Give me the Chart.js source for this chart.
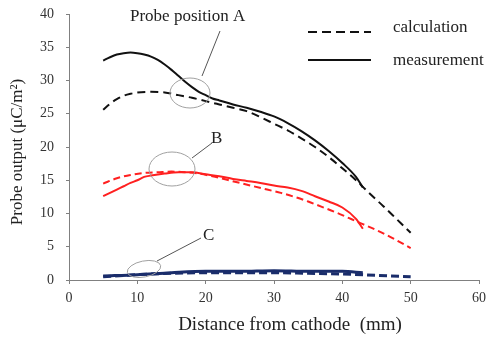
<!DOCTYPE html>
<html>
<head>
<meta charset="utf-8">
<script src="https://cdn.jsdelivr.net/npm/chart.js@4"></script>
<style>
  html, body { margin: 0; padding: 0; background: #fff; }
  #wrap { width: 486px; height: 338px; }
</style>
</head>
<body>
<div id="wrap"><canvas id="probeChart" width="486" height="338"></canvas></div>
<script>
// A: probe position A
const aMeasX = [5, 6, 7, 8, 9, 10, 11, 12, 13, 14, 15, 16, 17, 18, 19, 20, 21, 22, 24, 26, 28, 30, 32, 34, 36, 38, 40, 42, 43];
const aMeasY = [33.0, 33.5, 33.9, 34.1, 34.2, 34.1, 33.9, 33.6, 33.1, 32.4, 31.6, 30.7, 29.8, 29.0, 28.3, 27.8, 27.3, 27.0, 26.4, 25.9, 25.3, 24.6, 23.6, 22.4, 21.0, 19.4, 17.6, 15.5, 13.9];
const aCalcX = [5, 6, 7, 8, 9, 10, 12, 14, 16, 18, 20, 22, 24, 26, 28, 30, 32, 34, 36, 38, 40, 42, 44, 46, 48, 50];
const aCalcY = [25.6, 26.5, 27.2, 27.7, 28.0, 28.2, 28.3, 28.2, 27.8, 27.4, 26.9, 26.4, 25.9, 25.4, 24.5, 23.5, 22.5, 21.3, 20.0, 18.5, 16.8, 15.0, 13.0, 11.1, 9.1, 7.1];
// B
const bMeasX = [5, 6, 7, 8, 9, 10, 11, 12, 14, 16, 18, 20, 22, 24, 26, 28, 30, 32, 34, 36, 38, 40, 42, 43];
const bMeasY = [12.6, 13.1, 13.6, 14.1, 14.6, 15.0, 15.5, 15.7, 16.0, 16.2, 16.2, 15.9, 15.6, 15.2, 14.9, 14.6, 14.2, 13.9, 13.4, 12.6, 11.8, 10.9, 9.2, 7.7];
const bCalcX = [5, 7, 9, 11, 13, 15, 17, 19, 21, 23, 25, 27, 29, 31, 33, 35, 37, 39, 41, 43, 45, 47, 50];
const bCalcY = [14.5, 15.3, 15.8, 16.1, 16.2, 16.3, 16.2, 16.0, 15.6, 15.1, 14.6, 14.1, 13.6, 13.1, 12.5, 11.8, 11.0, 10.2, 9.3, 8.4, 7.5, 6.5, 4.8];
// C
const cMeasX = [5, 10, 15, 20, 25, 30, 35, 40, 43];
const cMeasY = [0.6, 0.8, 1.1, 1.3, 1.3, 1.4, 1.3, 1.3, 1.1];
const cCalcX = [5, 10, 15, 20, 25, 30, 35, 40, 45, 50];
const cCalcY = [0.5, 0.8, 1.0, 1.1, 1.1, 1.1, 1.0, 0.9, 0.7, 0.5];

const xTicks = [0, 10, 20, 30, 40, 50, 60];
const yTicks = [0, 5, 10, 15, 20, 25, 30, 35, 40];

const serif = "'Liberation Serif', 'DejaVu Serif', serif";

function pts(xs, ys) {
  return xs.map((x, i) => ({ x: x, y: ys[i] }));
}

function line(xs, ys, color, width, dash) {
  return {
    data: pts(xs, ys),
    borderColor: color,
    borderWidth: width,
    borderDash: dash || [],
    pointRadius: 0,
    fill: false,
    cubicInterpolationMode: "monotone"
  };
}

// axis titles, callouts, legend and ellipses drawn on top
const extras = {
  id: "extras",
  afterDatasetsDraw(chart) {
    const ctx = chart.ctx;
    ctx.save();

    // ellipses
    ctx.strokeStyle = "#a0a0a0";
    ctx.lineWidth = 1;
    [[190, 93, 20, 15, 0], [172, 169, 23, 17, 0], [144, 269, 17, 8, -0.2]].forEach((e) => {
      ctx.beginPath();
      ctx.ellipse(e[0], e[1], e[2], e[3], e[4], 0, Math.PI * 2);
      ctx.stroke();
    });

    // leader lines
    ctx.strokeStyle = "#555";
    [[202, 76, 220, 31], [192, 158, 212, 143], [157, 261, 201, 238]].forEach((l) => {
      ctx.beginPath();
      ctx.moveTo(l[0], l[1]);
      ctx.lineTo(l[2], l[3]);
      ctx.stroke();
    });

    ctx.fillStyle = "#222";
    ctx.font = "17px " + serif;
    ctx.textBaseline = "middle";
    ctx.textAlign = "left";
    ctx.fillText("Probe position A", 130, 17);
    ctx.fillText("B", 211, 139);
    ctx.fillText("C", 203, 236);

    // legend
    ctx.strokeStyle = "#111";
    ctx.lineWidth = 2;
    ctx.setLineDash([9, 5]);
    ctx.beginPath();
    ctx.moveTo(308, 32);
    ctx.lineTo(371, 32);
    ctx.stroke();
    ctx.setLineDash([]);
    ctx.beginPath();
    ctx.moveTo(308, 60);
    ctx.lineTo(371, 60);
    ctx.stroke();
    ctx.fillText("calculation", 393, 28);
    ctx.fillText("measurement", 393, 61);

    // axis titles
    ctx.textAlign = "center";
    ctx.font = "19px " + serif;
    ctx.fillText("Distance from cathode  (mm)", 290, 325);
    ctx.translate(18, 152);
    ctx.rotate(-Math.PI / 2);
    ctx.font = "17px " + serif;
    ctx.fillText("Probe output (μC/m²)", 0, 0);
    ctx.restore();
  }
};

new Chart(document.getElementById("probeChart"), {
  type: "line",
  data: {
    datasets: [
      line(aCalcX, aCalcY, "#111", 2, [8, 5]),
      line(aMeasX, aMeasY, "#111", 2),
      line(bCalcX, bCalcY, "#ff2020", 2, [7, 4]),
      line(bMeasX, bMeasY, "#ff2020", 2),
      line(cCalcX, cCalcY, "#1a2d6b", 3, [8, 4]),
      line(cMeasX, cMeasY, "#1a2d6b", 3)
    ]
  },
  options: {
    responsive: false,
    animation: false,
    layout: { padding: { top: 14, right: 7, left: 0, bottom: 0 } },
    plugins: { legend: { display: false }, tooltip: { enabled: false } },
    scales: {
      x: {
        type: "linear",
        min: 0,
        max: 60,
        afterBuildTicks: (s) => { s.ticks = xTicks.map((v) => ({ value: v })); },
        afterFit: (s) => { s.height = 58; s.paddingLeft = 0; s.paddingRight = 0; },
        grid: { display: true, drawOnChartArea: false, drawTicks: true, tickLength: 4, color: "#808080" },
        border: { color: "#808080", width: 1 },
        ticks: { color: "#333", font: { family: serif, size: 14 }, padding: 6 }
      },
      y: {
        min: 0,
        max: 40,
        afterBuildTicks: (s) => { s.ticks = yTicks.map((v) => ({ value: v })); },
        afterFit: (s) => { s.width = 69; s.paddingTop = 0; s.paddingBottom = 0; },
        grid: { display: true, drawOnChartArea: false, drawTicks: true, tickLength: 3, color: "#808080" },
        border: { color: "#808080", width: 1 },
        ticks: { color: "#333", font: { family: serif, size: 14 }, padding: 12 }
      }
    }
  },
  plugins: [extras]
});
</script>
</body>
</html>
